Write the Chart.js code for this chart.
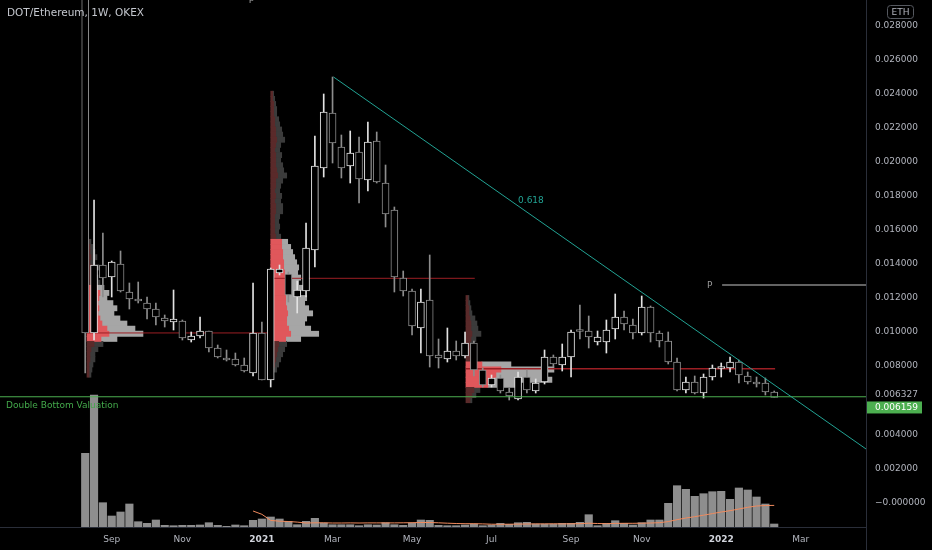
<!DOCTYPE html>
<html>
<head>
  <title>DOT/Ethereum, 1W, OKEX</title>
  <script src="https://cdn.jsdelivr.net/npm/chart.js"></script>
  <style>
    body {
      margin: 0;
      padding: 0;
      background-color: #000;
    }
    #chart {
      display: block;
      width: 932px;
      height: 550px;
    }
  </style>
</head>
<body>
  <canvas id="chart" width="932" height="550"></canvas>
  <script>
    // weekly candles, index 0 = week of 17 Aug 2020
    const opens = [0.0330, 0.009946, 0.013941, 0.013236, 0.014000, 0.012355, 0.011944, 0.011709, 0.011356, 0.010828,
      0.010593, 0.010651, 0.009535, 0.009770, 0.010064, 0.009065, 0.008478, 0.008419, 0.008066, 0.007596,
      0.009946, 0.007185, 0.013471, 0.013413, 0.012062, 0.012414, 0.014823, 0.019640, 0.022871, 0.020874,
      0.019758, 0.020580, 0.018935, 0.021226, 0.018759, 0.017173, 0.013178, 0.012414, 0.010240, 0.011885,
      0.008654, 0.008419, 0.008889, 0.008595, 0.009359, 0.007773, 0.006891, 0.007303, 0.006480, 0.006069,
      0.007361, 0.006539, 0.007068, 0.008536, 0.008066, 0.008536, 0.010064, 0.010064, 0.009418, 0.009418,
      0.010181, 0.010886, 0.010416, 0.009946, 0.011474, 0.009946, 0.009476, 0.008243, 0.006598, 0.007068,
      0.006421, 0.007361, 0.007861, 0.007890, 0.008243, 0.007420, 0.007068, 0.007009, 0.006480];
    const highs = [0.0360, 0.017760, 0.015821, 0.014176, 0.014764, 0.012884, 0.012942, 0.012062, 0.011709, 0.011004,
      0.012473, 0.010710, 0.010005, 0.010886, 0.010064, 0.009241, 0.008948, 0.008771, 0.008478, 0.012884,
      0.010593, 0.013765, 0.013941, 0.013530, 0.013001, 0.016409, 0.021520, 0.023988, 0.024986, 0.021579,
      0.021814, 0.021461, 0.022343, 0.021755, 0.019816, 0.017349, 0.013589, 0.012531, 0.012531, 0.014529,
      0.009594, 0.010240, 0.009476, 0.010005, 0.009476, 0.007890, 0.007479, 0.007479, 0.006713, 0.007655,
      0.007773, 0.007244, 0.008948, 0.008654, 0.009300, 0.010123, 0.011591, 0.010945, 0.010064, 0.010710,
      0.012238, 0.011239, 0.010769, 0.012120, 0.011533, 0.010064, 0.010005, 0.008478, 0.007361, 0.007420,
      0.007538, 0.008066, 0.008184, 0.008536, 0.008360, 0.007655, 0.007361, 0.007303, 0.006539];
    const lows = [0.007596, 0.009535, 0.012062, 0.012062, 0.012355, 0.011356, 0.011709, 0.010769, 0.010416, 0.010299,
      0.010123, 0.009535, 0.009418, 0.009653, 0.008830, 0.008478, 0.008301, 0.008008, 0.007655, 0.007420,
      0.007185, 0.006774, 0.013354, 0.011768, 0.011121, 0.012062, 0.013824, 0.019111, 0.019934, 0.019053,
      0.018759, 0.017584, 0.018289, 0.018759, 0.016174, 0.012355, 0.012120, 0.009829, 0.008771, 0.007949,
      0.007890, 0.008243, 0.008360, 0.008478, 0.007420, 0.006774, 0.006774, 0.006421, 0.006010, 0.006010,
      0.006421, 0.006421, 0.006950, 0.007949, 0.007714, 0.007361, 0.009594, 0.009065, 0.009241, 0.008771,
      0.009594, 0.010123, 0.009594, 0.009829, 0.009418, 0.009124, 0.008125, 0.006539, 0.006421, 0.006363,
      0.006128, 0.007185, 0.007361, 0.007655, 0.007009, 0.006950, 0.006774, 0.006304, 0.006186];
    const closes = [0.009946, 0.013941, 0.013178, 0.014118, 0.012414, 0.011944, 0.011826, 0.011356, 0.010886, 0.010651,
      0.010769, 0.009653, 0.009770, 0.010064, 0.009065, 0.008536, 0.008360, 0.008066, 0.007714, 0.009946,
      0.007185, 0.013706, 0.013706, 0.012179, 0.012473, 0.014940, 0.019758, 0.022930, 0.021109, 0.019640,
      0.020521, 0.018994, 0.021168, 0.018818, 0.016938, 0.013236, 0.012414, 0.010358, 0.011768, 0.008595,
      0.008478, 0.008889, 0.008595, 0.009359, 0.007773, 0.006891, 0.007303, 0.006539, 0.006245, 0.007361,
      0.006598, 0.007009, 0.008536, 0.008125, 0.008536, 0.010005, 0.010035, 0.009711, 0.009711, 0.010123,
      0.010886, 0.010475, 0.009946, 0.011474, 0.009946, 0.009476, 0.008243, 0.006598, 0.007068, 0.006421,
      0.007361, 0.007890, 0.007890, 0.008243, 0.007479, 0.007068, 0.006950, 0.006480, 0.006159];
    const volumes = [737, 1320, 243, 110, 150, 230, 53, 37, 70, 17,
      13, 17, 17, 20, 43, 17, 7, 20, 13, 67,
      80, 100, 80, 57, 23, 57, 87, 40, 23, 23,
      23, 13, 23, 20, 43, 23, 17, 40, 70, 67,
      17, 13, 13, 20, 30, 13, 20, 37, 27, 43,
      47, 30, 30, 30, 37, 37, 47, 123, 13, 37,
      63, 37, 20, 43, 70, 70, 237, 413, 377, 307,
      333, 353, 357, 277, 390, 370, 300, 230, 30];
    // volume moving average, first value at week 19
    const volumeMA = [160, 127, 66, 58, 55, 49, 40, 42, 42, 40,
      40, 41, 40, 41, 41, 41, 41, 42, 43, 45,
      45, 42, 38, 35, 33, 33, 31, 28, 27, 28,
      29, 30, 31, 31, 32, 31, 32, 33, 38, 35,
      33, 36, 37, 37, 38, 40, 43, 54, 73, 90,
      103, 118, 134, 150, 163, 180, 197, 210, 215, 216];
    const maStart = 19;

    const monthTicks = [3, 11, 20, 28, 37, 46, 55, 63, 72, 81];
    const monthLabels = ['Sep', 'Nov', '2021', 'Mar', 'May', 'Jul', 'Sep', 'Nov', '2022', 'Mar'];
    const priceTicks = [0.028, 0.026, 0.024, 0.022, 0.020, 0.018, 0.016, 0.014, 0.012, 0.010, 0.008, 0.006327, 0.004, 0.002, 0];
    const priceLabels = ['0.028000', '0.026000', '0.024000', '0.022000', '0.020000', '0.018000', '0.016000', '0.014000',
      '0.012000', '0.010000', '0.008000', '0.006327', '0.004000', '0.002000', '\u22120.000000'];

    // volume profiles: price rows, total volume and sell volume per row
    const profALevels = [0.0153, 0.0150, 0.0147, 0.0144, 0.0141, 0.0138, 0.0135, 0.0132, 0.0129, 0.0126,
      0.0123, 0.0120, 0.0117, 0.0114, 0.0111, 0.0108, 0.0105, 0.0102, 0.0099, 0.0096,
      0.0093, 0.0090, 0.0087, 0.0084, 0.0081, 0.0078, 0.0075];
    const profATotal = [4, 6, 8, 10, 8, 12, 9, 11, 13, 17, 22, 20, 26, 30, 27, 33, 40, 48, 56, 30, 16, 11, 8, 8, 6, 5, 4];
    const profADown = [2, 3, 3, 4, 3, 5, 4, 5, 6, 10, 13, 12, 11, 12, 11, 13, 15, 20, 22, 14, 7, 4, 3, 3, 2, 2, 2];

    const profBLevels = [0.0240, 0.0237, 0.0234, 0.0231, 0.0228, 0.0225, 0.0222, 0.0219, 0.0216, 0.0213,
      0.0210, 0.0207, 0.0204, 0.0201, 0.0198, 0.0195, 0.0192, 0.0189, 0.0186, 0.0183,
      0.0180, 0.0177, 0.0174, 0.0171, 0.0168, 0.0165, 0.0162, 0.0159, 0.0156, 0.0153,
      0.0150, 0.0147, 0.0144, 0.0141, 0.0138, 0.0135, 0.0132, 0.0129, 0.0126, 0.0123,
      0.0120, 0.0117, 0.0114, 0.0111, 0.0108, 0.0105, 0.0102, 0.0099, 0.0096, 0.0093,
      0.0090, 0.0087, 0.0084, 0.0081, 0.0078];
    const profBTotal = [3, 4, 5, 6, 6, 8, 9, 11, 12, 14, 10, 9, 11, 10, 12, 13, 16, 12, 10, 9,
      11, 10, 12, 12, 9, 8, 9, 8, 10, 17, 20, 22, 24, 26, 28, 27, 30, 28, 32, 30,
      36, 34, 38, 42, 36, 34, 40, 48, 30, 16, 14, 12, 10, 8, 6];
    const profBDown = [2, 2, 3, 3, 3, 4, 4, 5, 5, 6, 5, 4, 5, 5, 5, 6, 7, 5, 5, 4,
      5, 4, 5, 5, 4, 4, 4, 4, 5, 11, 11, 12, 12, 13, 13, 14, 14, 14, 15, 14,
      15, 15, 16, 17, 16, 16, 18, 20, 15, 8, 7, 6, 5, 4, 3];

    const profCLevels = [0.0120, 0.0117, 0.0114, 0.0111, 0.0108, 0.0105, 0.0102, 0.0099, 0.0096, 0.0093,
      0.0090, 0.0087, 0.0084, 0.0081, 0.0078, 0.0075, 0.0072, 0.0069, 0.0066, 0.0063, 0.0060];
    const profCTotal = [3, 4, 5, 6, 9, 11, 12, 15, 10, 8, 9, 8, 10, 45, 88, 78, 86, 55, 14, 10, 6];
    const profCDown = [2, 2, 3, 3, 4, 5, 5, 6, 5, 4, 4, 4, 5, 16, 35, 30, 28, 22, 8, 6, 4];

    // drawings
    const trendX = [28.1, 88.4];
    const trendY = [0.02499, 0.00313];
    const bottomLevel = 0.0062;
    const lastPrice = 0.006159;
    const pivotLevel = 0.012766;

    const UP = '#e2e2e2';
    const DOWN = '#8d8d8d';
    const PROFILE_SCALE = 1 / 8.833;
    const X_MIN = -9.646, X_MAX = 88.39;

    const candleColors = closes.map((c, i) => c >= opens[i] ? UP : DOWN);
    const wickData = highs.map((h, i) => ({ x: i, y: [lows[i], h] }));
    const bodyData = opens.map((o, i) => ({ x: i, y: [Math.min(o, closes[i]), Math.max(o, closes[i])] }));
    const volData = volumes.map((v, i) => ({ x: i, y: v }));
    const maData = volumeMA.map((v, k) => ({ x: maStart + k, y: v }));

    const profRed = [], profGray = [], redColors = [], grayColors = [];
    function addProfile(levels, total, down, start, vaLo, vaHi) {
      levels.forEach((p, k) => {
        const mid = start + down[k] * PROFILE_SCALE;
        const end = start + total[k] * PROFILE_SCALE;
        const inVA = p >= vaLo && p <= vaHi;
        profRed.push({ y: p, x: [start, mid] });
        profGray.push({ y: p, x: [mid, end] });
        redColors.push(inVA ? '#e0575b' : '#5a2a2a');
        grayColors.push(inVA ? '#a6a6a6' : '#3b3b3b');
      });
    }
    addProfile(profALevels, profATotal, profADown, 0.2, 0.0094, 0.0127);
    addProfile(profBLevels, profBTotal, profBDown, 21.0, 0.0094, 0.0155);
    addProfile(profCLevels, profCTotal, profCDown, 43.1, 0.0067, 0.0082);

    function hLine(x0, x1, v) {
      return [{ x: x0, y: v }, { x: x1, y: v }];
    }

    function lineSet(data, color, width, order) {
      return {
        type: 'line', data: data, borderColor: color, borderWidth: width,
        pointRadius: 0, tension: 0, xAxisID: 'x', yAxisID: 'y', order: order
      };
    }

    const overlay = {
      id: 'overlay',
      afterDraw(chart) {
        const ctx = chart.ctx;
        const x = chart.scales.x, y = chart.scales.y;
        const area = chart.chartArea;
        ctx.save();
        ctx.textAlign = 'left';
        ctx.textBaseline = 'middle';

        ctx.font = '10.5px "DejaVu Sans"';
        ctx.fillStyle = '#c5c8cf';
        ctx.fillText('DOT/Ethereum, 1W, OKEX', 7, 13);

        ctx.font = '9px "DejaVu Sans"';
        ctx.fillStyle = '#43a94b';
        ctx.fillText('Double Bottom Valuation', 6, y.getPixelForValue(bottomLevel) + 9);

        ctx.fillStyle = '#22a394';
        ctx.fillText('0.618', x.getPixelForValue(49.0), y.getPixelForValue(0.0177));

        ctx.fillStyle = '#9a9a9a';
        ctx.fillText('P', x.getPixelForValue(72.1) - 15, y.getPixelForValue(pivotLevel) + 1);
        ctx.textBaseline = 'bottom';
        ctx.fillText('P', x.getPixelForValue(18.5), 5);

        // price axis border down through the time axis
        ctx.strokeStyle = '#2a2e39';
        ctx.lineWidth = 1;
        ctx.beginPath();
        ctx.moveTo(area.right + 0.5, area.bottom);
        ctx.lineTo(area.right + 0.5, chart.height);
        ctx.stroke();

        // currency box
        ctx.strokeStyle = '#55585f';
        ctx.beginPath();
        if (ctx.roundRect) ctx.roundRect(887.5, 5.5, 26, 13, 3); else ctx.rect(887.5, 5.5, 26, 13);
        ctx.stroke();
        ctx.fillStyle = '#b2b5be';
        ctx.textAlign = 'center';
        ctx.textBaseline = 'middle';
        ctx.fillText('ETH', 900.5, 12.5);

        // last price tag
        const py = y.getPixelForValue(lastPrice) + 10;
        ctx.fillStyle = '#4caf50';
        ctx.fillRect(area.right + 1, py - 6, 55, 12);
        ctx.fillStyle = '#ffffff';
        ctx.textAlign = 'left';
        ctx.fillText(lastPrice.toFixed(6), area.right + 9, py);
        ctx.restore();
      }
    };

    const ctx = document.getElementById('chart').getContext('2d');
    const chart = new Chart(ctx, {
      data: {
        datasets: [
          {
            type: 'bar', data: volData, xAxisID: 'x', yAxisID: 'yv',
            backgroundColor: '#8e8e8e', barThickness: 7.5, grouped: false, order: 20
          },
          {
            type: 'line', data: maData, xAxisID: 'x', yAxisID: 'yv',
            borderColor: '#f08a5d', borderWidth: 1, pointRadius: 0, tension: 0, order: 19
          },
          {
            type: 'bar', indexAxis: 'y', data: profGray, xAxisID: 'x', yAxisID: 'y',
            backgroundColor: grayColors, barThickness: 5.2, grouped: false, order: 18
          },
          {
            type: 'bar', indexAxis: 'y', data: profRed, xAxisID: 'x', yAxisID: 'y',
            backgroundColor: redColors, barThickness: 5.2, grouped: false, order: 17
          },
          lineSet(hLine(0.2, 20.9, 0.00995), '#9c1f24', 1, 16),
          lineSet(hLine(21.0, 44.1, 0.01316), '#9c1f24', 1, 16),
          lineSet(hLine(43.1, 78.1, 0.00785), '#9c1f24', 1.5, 16),
          {
            type: 'bar', data: wickData, xAxisID: 'x', yAxisID: 'y',
            backgroundColor: candleColors, barThickness: 1, minBarLength: 1, grouped: false, order: 15
          },
          {
            type: 'bar', data: bodyData, xAxisID: 'x', yAxisID: 'y',
            backgroundColor: '#000000', borderColor: candleColors, borderWidth: 1, borderSkipped: false,
            barThickness: 7, minBarLength: 2, grouped: false, order: 14
          },
          lineSet(hLine(X_MIN, X_MAX, bottomLevel), '#4caf50', 1, 3),
          lineSet(hLine(72.1, X_MAX, pivotLevel), '#858585', 1.5, 2),
          lineSet([{ x: trendX[0], y: trendY[0] }, { x: trendX[1], y: trendY[1] }], '#22a394', 1, 1)
        ]
      },
      options: {
        responsive: false,
        maintainAspectRatio: false,
        animation: false,
        events: [],
        layout: { padding: 0 },
        plugins: {
          legend: { display: false },
          tooltip: { enabled: false }
        },
        scales: {
          x: {
            type: 'linear', position: 'bottom', min: X_MIN, max: X_MAX, offset: false,
            grid: { display: false, drawTicks: false },
            border: { display: true, color: '#2a2e39' },
            afterBuildTicks: axis => { axis.ticks = monthTicks.map(v => ({ value: v })); },
            afterFit: axis => { axis.height = 23; axis.paddingLeft = 0; axis.paddingRight = 0; },
            ticks: {
              autoSkip: false, maxRotation: 0, padding: 7,
              color: c => /^\d{4}$/.test(monthLabels[c.index]) ? '#d1d4dc' : '#b2b5be',
              font: c => ({ family: 'DejaVu Sans', size: 9, weight: /^\d{4}$/.test(monthLabels[c.index]) ? 'bold' : 'normal' }),
              callback: (v, i) => monthLabels[i]
            }
          },
          y: {
            type: 'linear', position: 'right', min: -0.001451, max: 0.02951, offset: false,
            grid: { display: false, drawTicks: false },
            border: { display: true, color: '#2a2e39' },
            afterBuildTicks: axis => { axis.ticks = priceTicks.map(v => ({ value: v })); },
            afterFit: axis => { axis.width = 66; axis.paddingTop = 0; axis.paddingBottom = 0; },
            ticks: {
              autoSkip: false, padding: 9, color: '#b2b5be',
              font: { family: 'DejaVu Sans', size: 9 },
              callback: (v, i) => priceLabels[i]
            }
          },
          yv: {
            type: 'linear', display: false, min: 0, max: 5270
          }
        }
      },
      plugins: [overlay]
    });
  </script>
</body>
</html>
